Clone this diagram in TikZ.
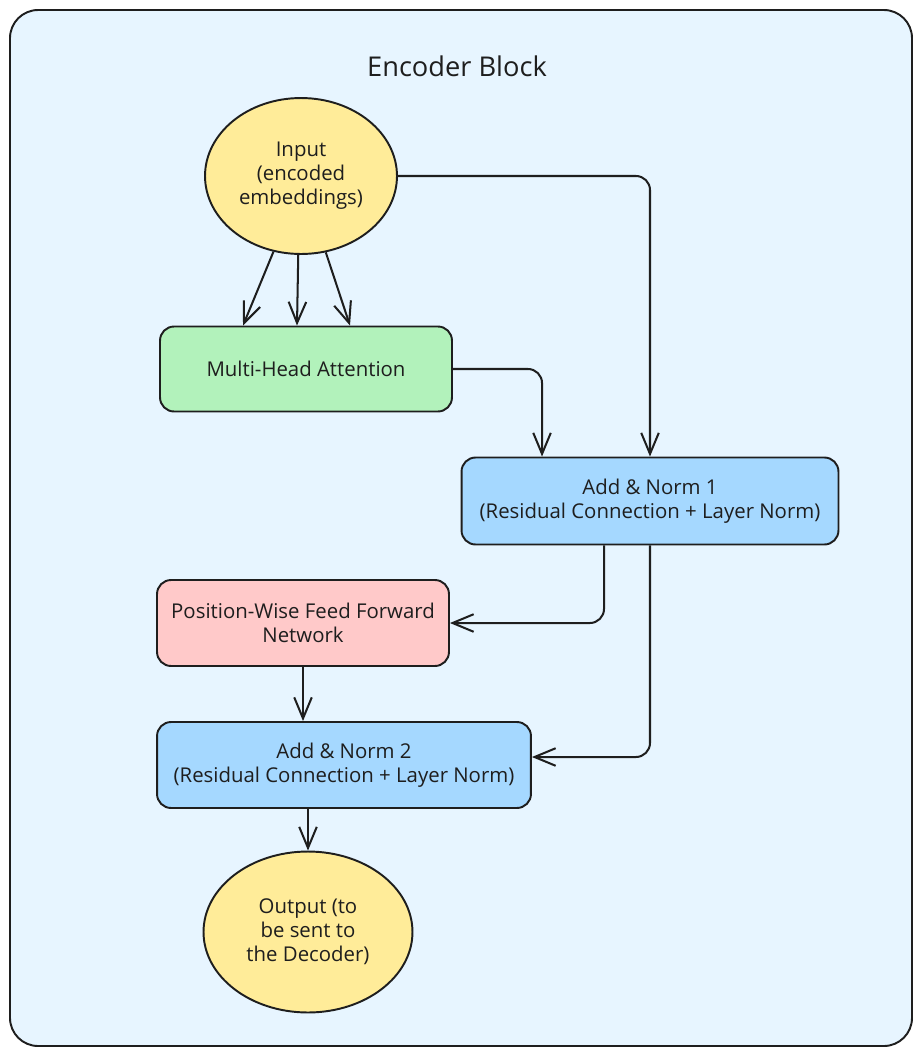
\documentclass[tikz,border=0pt]{standalone}
\usepackage{fontspec}
\setmainfont{Open Sans}
\usepackage{tikz}
\usetikzlibrary{shapes.geometric, arrows.meta}
\definecolor{frameCol}{RGB}{231,245,255}
\definecolor{yellowCol}{RGB}{255,236,153}
\definecolor{greenCol}{RGB}{178,242,187}
\definecolor{blueCol}{RGB}{165,216,255}
\definecolor{redCol}{RGB}{255,201,201}
\definecolor{inkCol}{RGB}{30,30,30}
\tikzset{myFrame/.style={draw=inkCol, line width=1.1pt, fill=frameCol, rounded corners=16pt}}
\tikzset{myText/.style={font=\fontsize{11.6}{13.6}\selectfont, text=inkCol, align=center}}
\tikzset{myBox/.style={myText, draw=inkCol, line width=1.1pt, rounded corners=8pt, inner sep=0pt}}
\tikzset{myEllipse/.style={myText, ellipse, draw=inkCol, line width=1.1pt, fill=yellowCol, inner sep=0pt}}
\tikzset{myArrow/.style={draw=inkCol, line width=1.15pt, rounded corners=8pt, -{Straight Barb[length=12pt, width=10pt]}}}

\begin{document}
\begin{tikzpicture}[x=0.02cm, y=-0.02cm]
	\useasboundingbox (0,0) rectangle (922,1056);
	\draw[myFrame] (10,10) rectangle (912,1046);
	\node[font=\fontsize{15.5}{18}\selectfont, text=inkCol] (title) at (457,66) {Encoder Block};

	\node[myEllipse, minimum width=3.84cm, minimum height=3.12cm] (in) at (301,176) {Input\\(encoded\\embeddings)};
	\node[myBox, fill=greenCol, minimum width=5.84cm, minimum height=1.7cm] (mha) at (306,369) {Multi-Head Attention};
	\node[myBox, fill=blueCol, minimum width=7.54cm, minimum height=1.74cm] (an1) at (650,501) {Add \& Norm 1\\(Residual Connection + Layer Norm)};
	\node[myBox, fill=redCol, minimum width=5.84cm, minimum height=1.72cm] (ffn) at (303,623) {Position-Wise Feed Forward\\Network};
	\node[myBox, fill=blueCol, minimum width=7.48cm, minimum height=1.72cm] (an2) at (344,765) {Add \& Norm 2\\(Residual Connection + Layer Norm)};
	\node[myEllipse, minimum width=4.18cm, minimum height=3.22cm] (out) at (308,932) {Output (to\\be sent to\\the Decoder)};

	\foreach \a/\s in {-110/-1.26, -92/-0.18, -72/0.88}{
		\draw[myArrow] (in.\a) -- ([xshift=\s cm]mha.north);
	}
	\draw[myArrow] (in.east) -| (an1.north);
	\draw[myArrow] (mha.east) -| ([xshift=-2.16cm]an1.north);
	\draw[myArrow] ([xshift=-0.92cm]an1.south) |- (ffn.east);
	\draw[myArrow] (an1.south) |- ([yshift=0.16cm]an2.east);
	\draw[myArrow] (ffn.south) -- (ffn.south |- an2.north);
	\draw[myArrow] (out.north |- an2.south) -- (out.north);
\end{tikzpicture}
\end{document}
